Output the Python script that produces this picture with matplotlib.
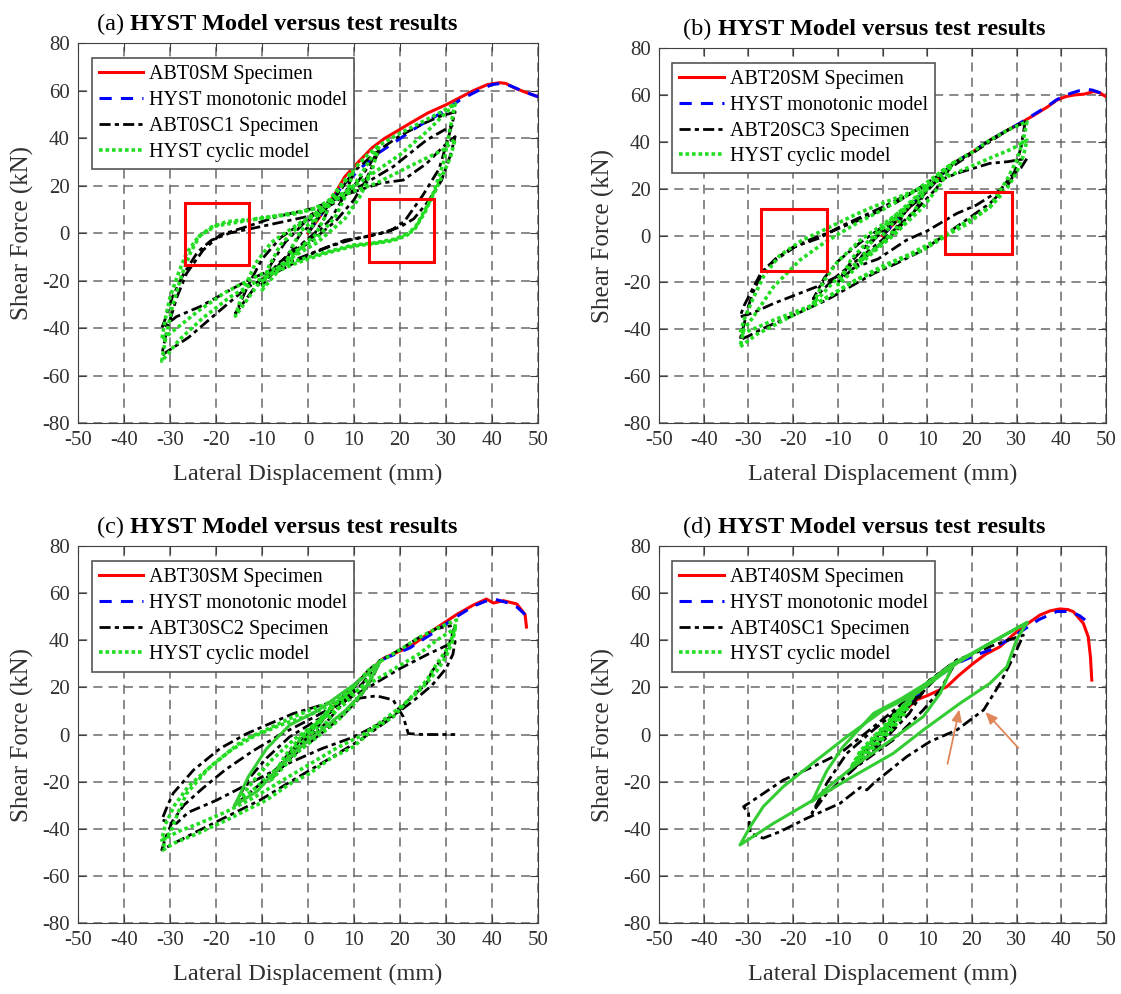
import numpy as np
import matplotlib.pyplot as plt
from matplotlib.patches import Rectangle

plt.rcParams['font.family'] = ['Liberation Serif', 'DejaVu Serif']
plt.rcParams['axes.unicode_minus'] = False

# ---------------- data (x in mm, y in kN) ----------------
# (a) ABT0
a_mono_test = [(0, 0), (3, 8), (6, 17), (8, 23.7), (11, 30), (14, 36), (16.7, 39.9), (19, 42.5),
               (22, 46), (26, 50.5), (30, 54), (33, 57), (36, 60), (39, 62.5), (41.7, 63.3),
               (43, 63), (45, 61), (47, 59.5), (50, 57.4)]
a_mono_model = [(0, 0), (4, 11), (8, 21), (10, 24.5), (14, 32), (18.5, 37.8), (24, 45), (29.4, 51),
                (33, 56), (37, 60), (40, 62.5), (42, 63), (44, 62), (47, 59.5), (50, 57.4)]
a_cyc_test = [(0, 0), (2.5, 7), (5, 13), (3.5, 6), (1.5, 0), (-1, -4), (-5, -13), (-3.5, -6), (-1.5, 0),
              (1, 4), (5, 13), (7, 18), (10, 26), (8, 16), (5, 6), (1, -2), (-4, -8), (-10, -22),
              (-8, -13), (-5, -4), (-1, 4), (4, 10), (10, 26), (13, 31), (15.5, 35), (13, 24), (10, 14),
              (6, 5), (1, -3), (-6, -12), (-12, -24), (-15.8, -34), (-13, -22), (-10, -11), (-6, -2),
              (0, 6), (6, 13), (11, 22), (15.5, 35), (20, 41), (25, 46), (28.5, 49), (32, 51),
              (30.5, 40), (28.5, 27), (25, 16), (21, 5), (18, 1), (13, -1.5), (8, -3), (1, -8.6),
              (-6, -15.6), (-13.3, -23), (-20, -34), (-26, -44), (-31.8, -51.4), (-30.7, -41),
              (-28.5, -27), (-26.4, -17), (-22.8, -7.2), (-19.1, -0.8), (-13.3, 2.7), (-6.8, 6.9),
              (1.2, 10.4), (9, 16.7), (15.7, 21), (20.7, 22.3), (25.8, 29.3), (29.4, 36.4), (32, 40.6),
              (31, 33), (29, 22), (26, 13), (23, 6), (20, 2.5), (16, 0), (10, -2.5), (4, -6),
              (-3, -11.4), (-13, -19.8), (-23.5, -31), (-28.6, -35.2), (-31.8, -40.1), (-31, -36),
              (-29.5, -27), (-27, -17), (-24, -8), (-21, -3), (-17, 0), (-12, 2), (-6, 4.5), (0, 7),
              (9.9, 18), (18.5, 27.9), (25.8, 39.2), (32, 46)]
a_cyc_model = [(0, 0), (2.5, 8), (5, 14), (3.5, 6), (1.5, -1), (-1, -5), (-5, -14), (-3.5, -6), (-1.5, 1),
               (1, 5), (5, 14), (7, 19), (10, 27), (8.5, 17), (6, 7), (2, -2), (-3, -8), (-10, -24),
               (-8.5, -14), (-6, -5), (-2, 3), (3, 10), (10, 27), (13, 33), (15.5, 37), (14, 27),
               (11.5, 16), (8, 6), (2, -4), (-5, -12), (-11, -22), (-15.8, -35), (-14, -24),
               (-11.5, -13), (-8, -4), (-2, 4), (4, 11), (10, 20), (15.5, 37), (20, 42), (25, 47),
               (29, 51), (32, 54.5), (31, 45), (29.5, 30), (27.5, 18), (25.5, 9), (23, 1), (19, -2.5),
               (14, -4.3), (9.9, -5), (3, -8.5), (-4, -12.5), (-11, -18), (-18, -25), (-24, -33),
               (-28.5, -40), (-31.8, -45), (-31, -36), (-30, -27), (-28, -16), (-26.4, -8.4), (-24, -2),
               (-21, 2.5), (-17.7, 4.8), (-10.4, 6.2), (-3, 8), (3, 11), (9, 17), (14.9, 21), (22, 28),
               (29.4, 35), (32, 39.5), (31, 32), (29.4, 25), (27.5, 17), (25.8, 11), (23.5, 3),
               (21.5, -1), (18.5, -3.2), (14.2, -4.5), (9.9, -5.5), (3, -9), (-3, -13), (-10, -19),
               (-17, -27), (-23, -36), (-28, -45), (-31.8, -54), (-31, -45), (-29.5, -31), (-27.5, -18),
               (-25.5, -8), (-23.5, -1), (-20, 3), (-14, 5), (-6, 7.5), (1, 10), (8, 17), (14, 25),
               (20, 33), (26, 43), (32, 54.5)]
a_boxes = [(-26.7, -13.5, 13.95, 26.3), (13.3, -12.1, 14.1, 26.3)]

# (b) ABT20
b_mono_test = [(0, 0), (5, 10), (10, 20), (15.8, 30.8), (20, 35.5), (24, 40.7), (28, 45), (30.8, 47.9),
               (34, 51.5), (37, 55), (39, 57.8), (41, 59.3), (43, 60), (45, 60.3), (47.2, 61.4),
               (48.5, 61), (50, 59.2)]
b_mono_model = [(0, 0), (5, 10), (10, 20), (15.8, 30.8), (20, 35.5), (24, 40.7), (28, 45), (30.8, 48),
                (34, 51.8), (37, 55.3), (39, 58), (42, 60.6), (44, 61.8), (45.7, 62.4), (47, 62),
                (48.5, 61), (50, 59.2)]
b_cyc_test = [(0, 0), (3, 6), (5, 10), (3, 3), (0, -3), (-5, -10), (-3, -4), (0, 2), (5, 10), (8, 16),
              (10, 20), (7, 10), (3, 2), (-2, -6), (-10, -20), (-7, -11), (-3, -3), (2, 6), (10, 20),
              (13, 26), (15.8, 30.8), (12, 20), (8, 12), (3, 3), (-4, -8), (-10, -17), (-15.5, -27),
              (-13, -18), (-10, -11), (-5, -3), (1, 5), (8, 15), (15.8, 30.8), (20, 35.5), (24, 40.7),
              (28, 45), (31.9, 48.6), (31, 38), (29.5, 27), (26.3, 19.4), (21, 13), (16.6, 9.4), (10, 2),
              (5.4, -1.9), (-1, -10), (-5.8, -13.3), (-14.7, -21.8), (-24.4, -29), (-29, -33),
              (-31.9, -34.7), (-31, -30), (-29.6, -24.7), (-27.5, -17), (-25.9, -13.3), (-22.9, -9.1),
              (-18.5, -3.4), (-12.5, 0.9), (-6, 6), (-2, 9.4), (3, 14), (7.6, 19.4), (12, 23),
              (16.6, 26.5), (24, 30.8), (28, 31.5), (32.3, 32.9), (31, 29), (30, 27.9), (27.8, 20.8),
              (24, 13.7), (16.6, 3.8), (9.1, -6.2), (3, -12), (-2, -16.2), (-12.5, -27.5),
              (-20.7, -34.7), (-26, -39), (-29.6, -42.5), (-31.9, -44.6), (-31, -38), (-30, -30),
              (-28.5, -22), (-26.5, -15), (-24, -10), (-20, -5), (-14, -1), (-9.5, 3.8), (0.2, 12.3),
              (6.9, 18.7), (12, 25), (20, 35), (28, 45), (32, 48.6)]
b_cyc_model = [(0, 0), (3, 7), (5, 11), (3, 3), (0, -3), (-5, -11), (-3, -4), (0, 3), (5, 11), (8, 17),
               (10, 21), (7, 10), (3, 1), (-2, -7), (-10, -21), (-7, -10), (-3, -2), (2, 7), (10, 21),
               (13, 27), (15.8, 31), (13, 22), (9, 12), (4, 3), (-4, -9), (-10, -18), (-15.5, -29),
               (-13, -19), (-10, -11), (-5, -2), (1, 6), (8, 16), (15.8, 31), (20, 35.5), (24, 40.7),
               (28, 45), (32.3, 48.6), (31.5, 41), (30, 32), (27.8, 23.7), (24, 12.3), (19, 5),
               (15.1, 0.9), (9.1, -6.2), (5.4, -9), (-5.8, -19), (-14.7, -29), (-24.4, -36.1),
               (-29, -40), (-31.9, -42), (-31, -36), (-29, -27), (-26.5, -17), (-23, -8.5), (-18, -2),
               (-13.2, 2.3), (-6, 9), (-2, 12.3), (3, 16), (7.6, 19.4), (13, 24), (18, 28), (24, 33),
               (29, 37), (32.3, 40.7), (31.5, 34), (30, 27), (27.8, 20), (24, 12), (18, 5), (12, -2),
               (6, -8), (0, -13), (-6, -19), (-14.7, -29), (-22, -36), (-28, -42), (-31.9, -47.5),
               (-31, -40), (-28.9, -34.7), (-24.4, -21.9), (-18.5, -10.5), (-13, -3), (-6, 5), (0, 11),
               (7.6, 19.4), (15.8, 31)]
b_boxes = [(-27.3, -15.2, 14.8, 26.4), (14.0, -7.8, 14.9, 26.35)]

# (c) ABT30
c_mono_test = [(0, 0), (5, 10.5), (10, 21), (16.4, 32.3), (22.2, 37.3), (27.2, 44.3), (32.3, 50.9),
               (36, 55), (38.8, 57.5), (40.3, 55.8), (42.5, 56.8), (45.4, 55.4), (47.2, 50.9),
               (47.5, 45.6)]
c_mono_model = [(0, 0), (5, 10.5), (10, 21), (16.4, 32), (22.2, 36.8), (26.5, 42.2), (32.3, 50),
                (36, 54.5), (38.5, 56.5), (40.7, 57.4), (43.2, 56), (45.5, 54), (47.2, 50.9)]
c_cyc_test = [(0, 0), (3, 7), (5, 11), (2, 3), (-1, -3), (-5, -11), (-2, -3), (1, 3), (5, 11),
              (8, 16.5), (10, 20), (7, 12), (3, 3), (-2, -6), (-8, -19), (-5, -10), (-2, -3), (3, 6),
              (10, 20), (13, 27), (15.7, 31.5), (14, 24), (11, 15), (7, 7), (0, -4), (-6, -13),
              (-11, -22), (-15.9, -30), (-13, -19), (-9, -10), (-4, -1), (1, 5), (7, 12), (12, 22),
              (15.7, 31.5), (20, 36), (24, 41), (28, 45), (32, 46.5), (31, 40), (29.5, 33), (27, 27),
              (25.8, 21.7), (22, 15), (18.5, 7.5), (11.3, -2.4), (4.1, -10.9), (-3.2, -19.3),
              (-10.4, -27.8), (-17.7, -34.9), (-24.9, -41.9), (-29, -46), (-31.8, -49), (-31, -44),
              (-29.5, -37), (-27, -30), (-23, -23), (-18, -15), (-12, -7), (-6, 0), (0, 6), (7.7, 14),
              (14, 21), (20, 28), (26, 34), (32, 39.5), (31.5, 34), (30, 28), (27, 21), (24, 16),
              (20, 10), (15, 4), (10, -1), (3, -6), (-4, -12), (-12, -20), (-20, -28), (-26, -33),
              (-28.6, -37.7), (-31.8, -36.3), (-30.5, -30), (-29.3, -24.9), (-24.9, -15.1),
              (-19.1, -5.9), (-13.3, 0.4), (-3.2, 8.9), (3, 12.5), (8.4, 14.7), (14.9, 16.4),
              (18.5, 14.7), (20.7, 7.6), (21.8, 0.4), (25, 0), (32, 0)]
c_cyc_model = [(0, 0), (3, 7), (5, 11.5), (2, 3), (-1, -3), (-5, -11.5), (-2, -3), (1, 3), (5, 11.5),
               (8, 17), (10, 20.5), (7, 12), (3, 3), (-2, -7), (-8, -19.3), (-5, -9), (-2, -2), (3, 7),
               (10, 20.5), (13, 27), (15.7, 31), (13, 21), (10, 13), (6, 5), (0, -4), (-6, -13),
               (-11, -22), (-15.9, -30), (-12, -20), (-8, -11), (-3, -2), (2, 5), (8, 13), (12, 21),
               (15.7, 31), (20, 36), (24, 41), (28, 45), (32.3, 48.6), (31.5, 42), (30.1, 35.9),
               (28, 30), (25.8, 23), (22, 15), (18.5, 7.5), (14, 2), (9.9, -5.2), (5, -10),
               (0.4, -16.5), (-4, -21), (-9, -27.8), (-17.7, -36.3), (-24, -42), (-29, -46),
               (-31.5, -49), (-31, -43), (-30, -41.9), (-28, -32), (-26.4, -25), (-21.3, -13.7),
               (-14.1, -2.4), (-8, 3), (-3.2, 7.5), (2, 11.5), (7.7, 16), (12, 20), (18, 27), (24, 34),
               (28, 40), (32, 45), (31.5, 40), (30, 33), (28, 27), (25, 20), (21, 13), (17, 7), (12, 0),
               (6, -6), (0, -13), (-6, -20), (-12, -27), (-18, -33), (-24, -38), (-28, -41),
               (-31.8, -44.8), (-31, -38), (-29, -30), (-26, -22), (-22, -15), (-17, -7), (-12, -1),
               (-6, 4), (0, 8), (7.7, 15)]
c_cyc_model_solid = [(-15.9, -30), (-11, -24), (-6.8, -15), (-2, -6), (3, 2), (8, 10), (12, 18),
                     (15.7, 31), (12, 24), (7, 17), (2, 10), (-4, 4), (-9, -6), (-13, -18), (-15.9, -30)]

# (d) ABT40
d_mono_test = [(0, 0), (4, 8.5), (7.6, 14.7), (10, 16.5), (14.4, 20.3), (17, 25), (20.3, 30.2),
               (23, 34), (26.3, 37.3), (29, 42), (31.5, 45.8), (35.2, 50.7), (37.5, 52.5), (39.7, 53.3),
               (41.5, 53), (42.7, 52.1), (44.9, 47.2), (46, 41.5), (46.5, 33), (46.8, 23.1)]
d_mono_model = [(0, 0), (5, 11), (10, 21), (16.6, 30.2), (20, 33), (24, 35.9), (28, 40), (31.5, 44.4),
                (35, 48.8), (39, 52.2), (41.9, 52.2), (44, 50.5), (45.3, 48.6)]
d_cyc_test = [(0, 0), (3, 6), (5, 10), (2, 2), (-1, -4), (-5, -11), (-2, -3), (1, 3), (5, 10), (7, 15),
              (9, 18), (6, 9), (2, 1), (-2, -7), (-8, -17), (-5, -9), (-2, -2), (3, 6), (9, 18), (12, 24),
              (14, 27), (16.6, 31.6), (12.9, 18.9), (9.1, 10.4), (2.4, -2.3), (-5.8, -13.6),
              (-12.5, -25), (-15.8, -33.4), (-14, -27), (-12.5, -20.7), (-8, -8), (-2, 2), (5.4, 13.3),
              (10.6, 23.1), (16.6, 31.6), (20, 34), (24, 37.3), (28, 40), (31.5, 42.2), (30.5, 38),
              (29.3, 33), (26.3, 21.7), (22.6, 10.4), (16.6, 1.9), (10.6, -3), (5.4, -9.4), (-2, -20.7),
              (-3.5, -23.5), (-5, -22.5), (-9.5, -29.2), (-17, -35.6), (-22.9, -41.2), (-26.7, -44),
              (-29.6, -41.9), (-30, -33.4), (-31.1, -30.6), (-29, -28), (-22.2, -19.3), (-15.5, -13.6),
              (-9.5, -8), (-2, 3.3), (5.4, 14.7), (10.6, 23.1), (15.8, 30.2)]
d_cyc_model = [(0, 0), (2, 5), (4, 9), (7, 17), (5, 9), (2, 2), (-1, -4), (-4, -9), (-7, -14), (-5, -7),
               (-2, -1), (1, 5), (4, 11), (7, 17), (5, 10), (2, 3), (-1, -3), (-4, -8), (-7, -14),
               (-5, -8), (-2, -2), (1, 4), (4, 10), (7, 17), (5, 11), (2, 4), (-1, -2), (-4, -7),
               (-6, -12), (-4, -6), (-1, 0), (2, 6), (5, 13)]
d_cyc_model_solid = [(5, 13), (10, 22), (12, 24), (15.8, 30.2), (15.1, 26.7), (12.9, 17.5), (9.1, 7.6),
                     (0.9, -3.7), (-6.5, -13.6), (-12, -22), (-15.8, -28.5), (-12.5, -15.5),
                     (-8.8, -5.1), (-2, 9), (4, 15), (10, 22), (15.8, 30.2), (20, 34.5), (24, 38.7),
                     (28, 43), (32.3, 47.5), (30, 40.3), (27.8, 28.8), (24, 21.7), (17.3, 13.2),
                     (9.1, 1.9), (2.4, -8), (-8, -19.3), (-15.5, -27.8), (-24.4, -37.7), (-31.9, -46.9),
                     (-29.6, -39.1), (-26.7, -30.6), (-22.2, -22.1), (-14.7, -10.8), (-8, -0.9),
                     (0.2, 10.4), (7.6, 17.5), (16.6, 30.2), (24, 38.7), (32.3, 47.5)]
d_arrows = [((14.4, -13.6), (17.3, 11.8)), ((30.8, -6.6), (22.6, 10.4))]

panels = [
    ('(a)', 'ABT0SM Specimen', 'ABT0SC1 Specimen', a_mono_test, a_mono_model, a_cyc_test, a_cyc_model, None, a_boxes, []),
    ('(b)', 'ABT20SM Specimen', 'ABT20SC3 Specimen', b_mono_test, b_mono_model, b_cyc_test, b_cyc_model, None, b_boxes, []),
    ('(c)', 'ABT30SM Specimen', 'ABT30SC2 Specimen', c_mono_test, c_mono_model, c_cyc_test, c_cyc_model, c_cyc_model_solid, [], []),
    ('(d)', 'ABT40SM Specimen', 'ABT40SC1 Specimen', d_mono_test, d_mono_model, d_cyc_test, d_cyc_model, d_cyc_model_solid, [], d_arrows),
]

positions = [
    [0.0696, 0.5744, 0.4103, 0.3823],
    [0.5879, 0.5744, 0.3988, 0.3773],
    [0.0696, 0.0714, 0.4103, 0.3793],
    [0.5879, 0.0714, 0.3988, 0.3793],
]
title_x = [0.041, 0.054, 0.041, 0.054]

green = '#22dd22'
fig = plt.figure(figsize=(11.21, 9.94), dpi=100)

for pos, tx, (tag, mono_lbl, cyc_lbl, mt, mm, ct, cm, cms, boxes, arrows) in zip(positions, title_x, panels):
    ax = fig.add_axes(pos)
    mt, mm, ct, cm = map(np.array, (mt, mm, ct, cm))
    ax.plot(mt[:, 0], mt[:, 1], color='red', lw=2.2, label=mono_lbl, zorder=3)
    ax.plot(mm[:, 0], mm[:, 1], color='blue', lw=2.2, ls=(0, (4, 3)), label='HYST monotonic model', zorder=3)
    ax.plot(ct[:, 0], ct[:, 1], color='black', lw=2.0, ls=(0, (4, 1.5, 1.5, 1.5)), label=cyc_lbl, zorder=4)
    ax.plot(cm[:, 0], cm[:, 1], color=green, lw=2.6, ls=(0, (1, 0.8)), label='HYST cyclic model', zorder=5)
    if cms is not None:
        cms = np.array(cms)
        ax.plot(cms[:, 0], cms[:, 1], color='#33cc33', lw=2.2, zorder=5)
    for (x0, y0, w, h) in boxes:
        ax.add_patch(Rectangle((x0, y0), w, h, fill=False, ec='red', lw=2.2, zorder=6))
    for (start, end) in arrows:
        ax.annotate('', xy=end, xytext=start,
                    arrowprops=dict(arrowstyle='-|>,head_length=0.7,head_width=0.3',
                                    color='#e0875a', lw=1.3), zorder=7)

    ax.set_xlim(-50, 50)
    ax.set_ylim(-80, 80)
    ax.set_xticks(np.arange(-50, 51, 10))
    ax.set_yticks(np.arange(-80, 81, 20))
    ax.grid(True, color='#6a6a6a', ls=(0, (6, 4)), lw=1.1)
    ax.tick_params(direction='in', top=True, right=True, length=6, labelsize=15,
                   labelcolor='#303030', color='#404040', pad=6)
    for s in ax.spines.values():
        s.set_color('#404040')
    ax.set_xlabel('Lateral Displacement (mm)', fontsize=17.5, color='#303030', labelpad=10)
    ax.set_ylabel('Shear Force (kN)', fontsize=18, color='#303030', labelpad=6)

    leg = ax.legend(loc='upper left', bbox_to_anchor=(0.03, 0.96), fontsize=14.5, frameon=True,
                    fancybox=False, edgecolor='#555555', framealpha=1, handlelength=2.2,
                    handletextpad=0.3, borderpad=0.35, labelspacing=0.33, borderaxespad=0)
    leg.get_frame().set_linewidth(1.2)
    leg.set_zorder(10)

    t = ax.text(tx, 1.022, tag + ' ', transform=ax.transAxes, fontsize=17.5, ha='left', va='bottom')
    ax.annotate('HYST Model versus test results', xy=(1, 0), xycoords=t, fontsize=17.5,
                fontweight='bold', ha='left', va='bottom')

fig.savefig('out.png', dpi=100)
